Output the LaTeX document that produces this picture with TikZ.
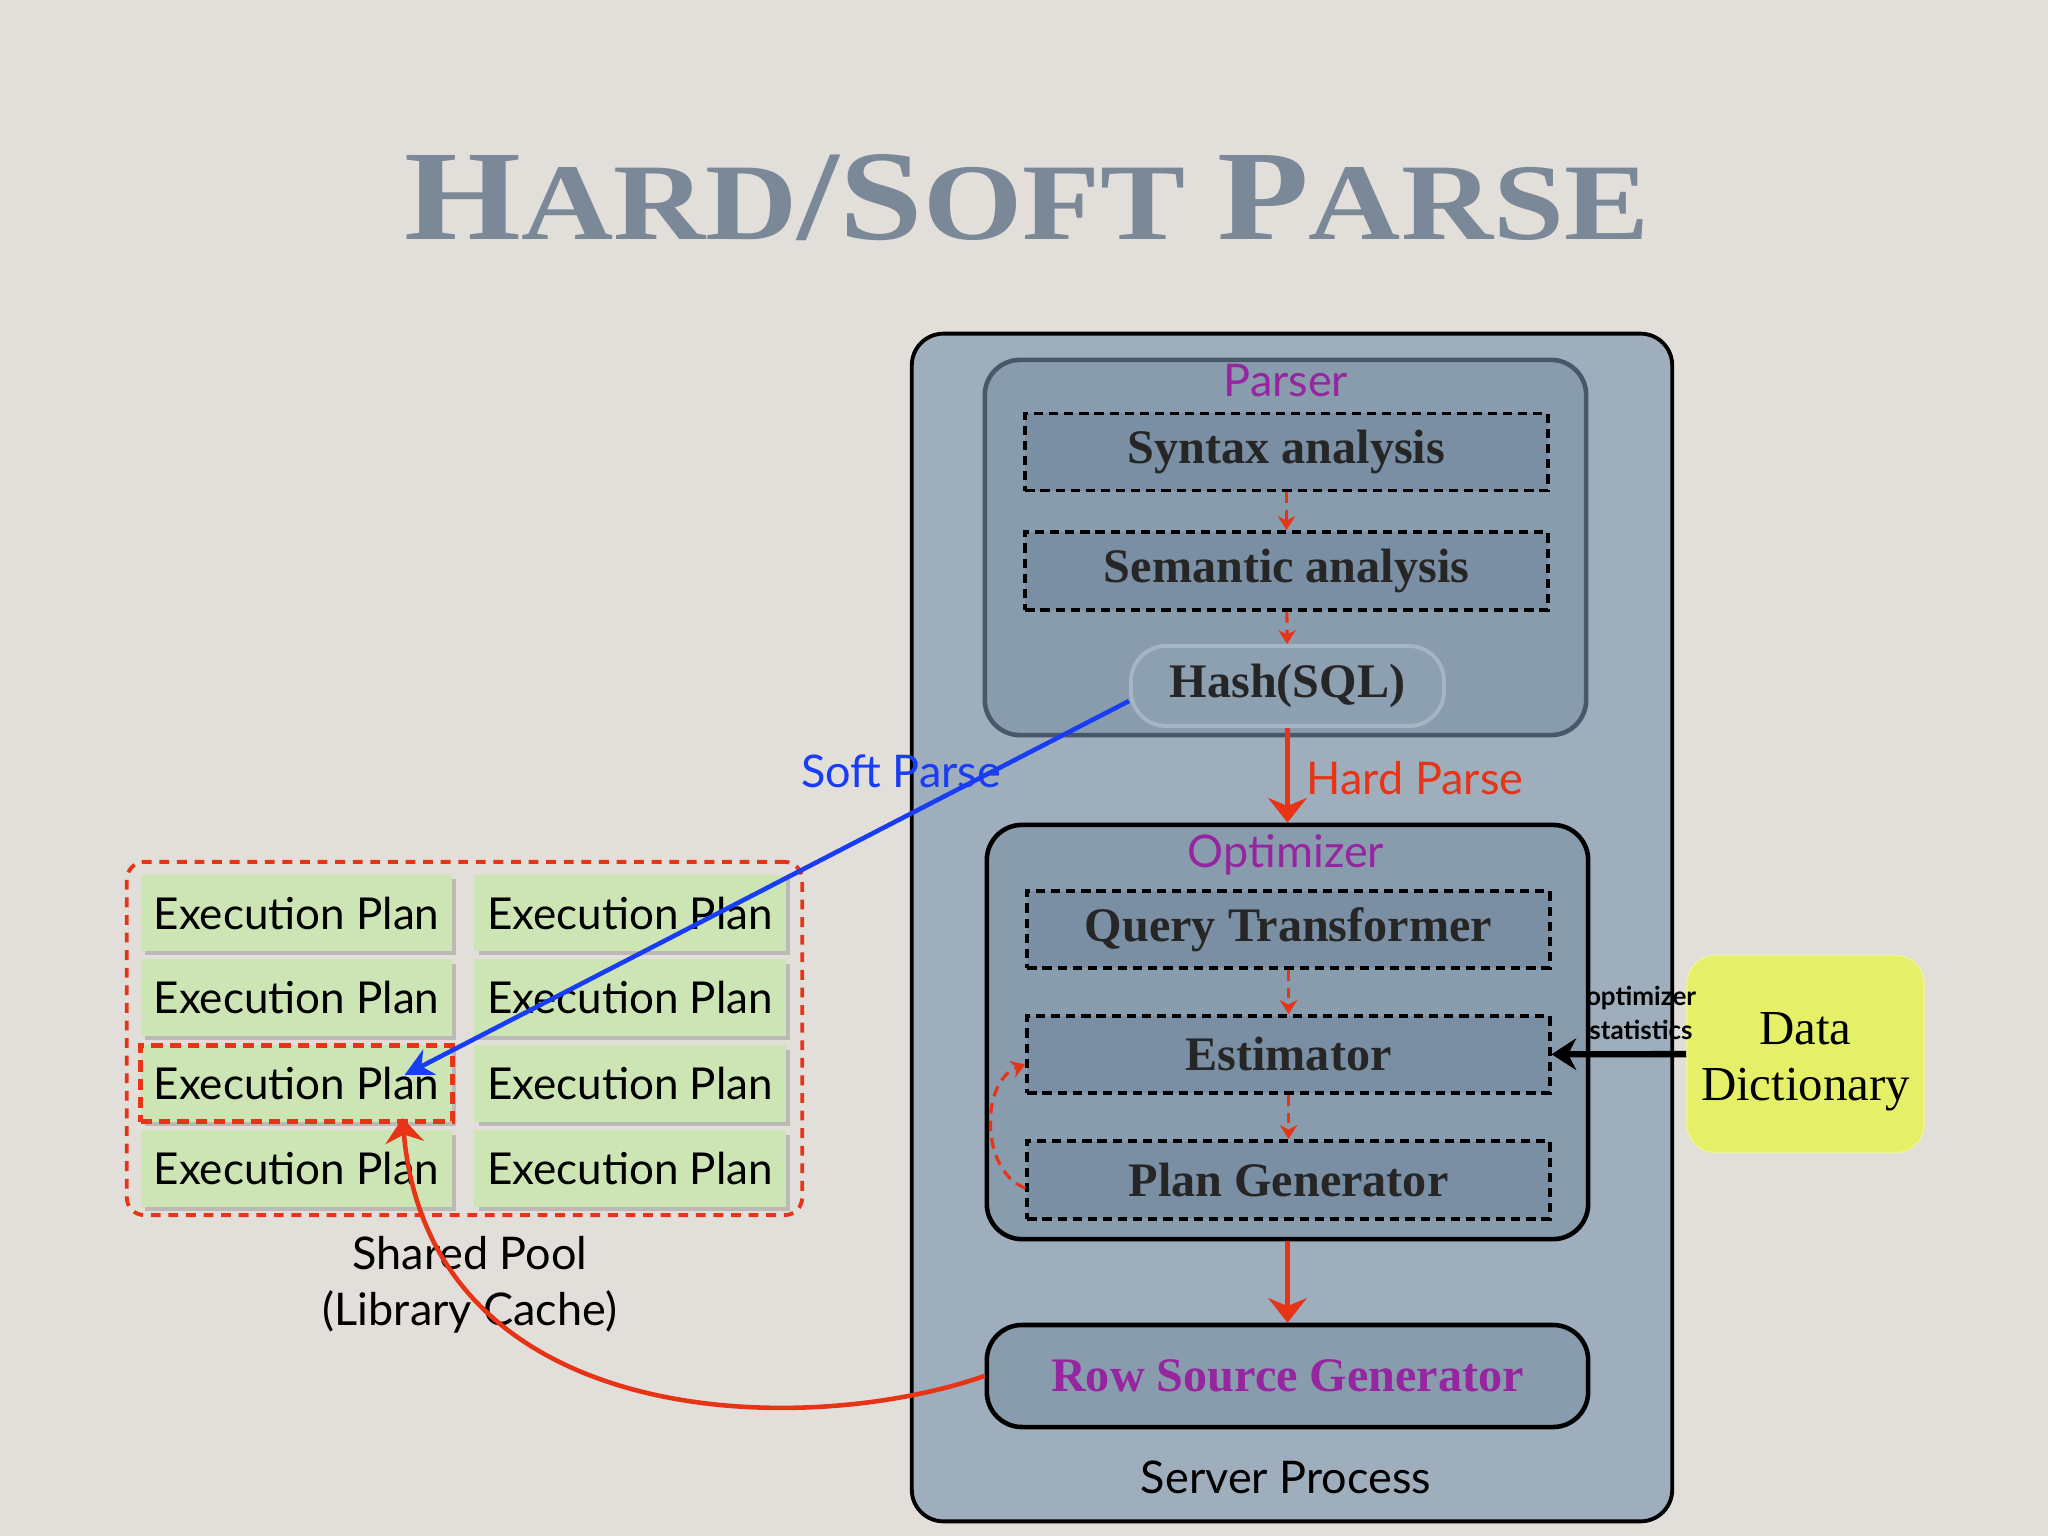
\documentclass[tikz,border=0pt]{standalone}
\usepackage{fontspec}
\setmainfont{Lato}
\newfontfamily\garafont{Liberation Serif}
\newfontfamily\titlefont[FakeStretch=1.17]{Liberation Serif}
\usetikzlibrary{arrows.meta,positioning,calc,shadows}

\definecolor{bgpaper}{RGB}{226,223,218}
\definecolor{srvblue}{RGB}{158,174,189}
\definecolor{innerblue}{RGB}{137,156,174}
\definecolor{stepblue}{RGB}{122,143,163}
\definecolor{hashfill}{RGB}{141,160,178}
\definecolor{hashrim}{RGB}{165,181,195}
\definecolor{slate}{RGB}{72,88,104}
\definecolor{planred}{RGB}{232,52,22}
\definecolor{labpurple}{RGB}{150,38,160}
\definecolor{softblue}{RGB}{25,60,245}
\definecolor{plangreen}{RGB}{205,229,180}
\definecolor{dictyellow}{RGB}{229,240,104}
\definecolor{titlegray}{RGB}{122,136,152}

\newcommand\tbig[1]{{\fontsize{36.5}{40}\selectfont #1}}

\begin{document}
\begin{tikzpicture}[
  x=0.01cm, y=-0.01cm,
  srvbox/.style={draw=black,line width=1.1pt,rounded corners=9pt,fill=srvblue},
  stage/.style={draw=black,line width=1.3pt,rounded corners=10pt,fill=innerblue,
                minimum width=6.01cm},
  stagelab/.style={text=labpurple,font=\fontsize{12.8}{15}\selectfont,inner sep=0pt},
  serifb/.style={font=\garafont\bfseries\fontsize{13.7}{16}\selectfont,text=black!85},
  stepbox/.style={serifb,draw=black,dash pattern=on 2.6pt off 1.7pt,line width=1.1pt,
                  fill=stepblue,minimum width=5.22cm,minimum height=0.77cm},
  hashbox/.style={serifb,draw=hashrim,line width=1.1pt,rounded corners=10pt,fill=hashfill,
                  minimum width=3.13cm,minimum height=0.8cm},
  sanslab/.style={font=\fontsize{12.8}{16}\selectfont,align=center,inner sep=0pt},
  plan/.style={fill=plangreen,minimum width=3.11cm,minimum height=0.76cm,
               font=\fontsize{12.5}{15}\selectfont,
               drop shadow={shadow xshift=1.2pt,shadow yshift=-1.2pt,fill=black!45,opacity=0.45}},
  hitbox/.style={draw=planred,line width=1.4pt,dash pattern=on 3.2pt off 2pt,
                 minimum width=3.11cm,minimum height=0.76cm},
  pool/.style={draw=planred,line width=1.1pt,dash pattern=on 2.8pt off 2.2pt,rounded corners=5pt,
               minimum width=6.75cm,minimum height=3.53cm},
  dictbox/.style={fill=dictyellow,draw=dictyellow!70!white,rounded corners=8pt,
                  minimum width=2.37cm,minimum height=1.97cm,align=center,
                  font=\garafont\fontsize{13.9}{16}\selectfont},
  flow/.style={draw=planred,line width=0.9pt,dash pattern=on 3pt off 2pt,
               -{Stealth[length=4pt,width=5pt]}},
  bigflow/.style={draw=planred,line width=1.6pt,-{Stealth[length=7pt,width=11pt]}},
  softflow/.style={draw=softblue,line width=1.3pt,-{Stealth[length=8pt,width=8pt]}},
  statflow/.style={draw=black,line width=1.8pt,-{Stealth[length=7pt,width=9pt]}}
]
\useasboundingbox[fill=bgpaper] (0,0) rectangle (2048,1536);

% title
\node[anchor=base,text=titlegray,inner sep=0pt,
      font=\titlefont\bfseries\fontsize{31}{34}\selectfont] (title) at (1027,239)
  {\tbig{H}ARD\tbig{/}\tbig{S}OFT \tbig{P}ARSE};

% server process
\node[srvbox,minimum width=7.6cm,minimum height=11.87cm] (server) at (1292,927.5) {};
\node[stage,draw=slate,minimum height=3.75cm] (parser) at (1285.5,547.5) {};
\node[stagelab] (parserlab) at (1286,381) {Parser};
\node[stepbox] (syntax) at (1286.5,452) {Syntax analysis};
\node[stepbox,minimum height=0.78cm] (semantic) at (1286.5,571) {Semantic analysis};
\node[hashbox] (hash) at (1287.5,686) {Hash(SQL)};

\node[stage,minimum height=4.14cm] (optimizer) at (1287.5,1032) {};
\node[stagelab] (optlab) at (1286,855) {Optimizer};
\node[stepbox] (query) at (1288.5,929.5) {Query Transformer};
\node[stepbox] (estimator) at (1288.5,1054.5) {Estimator};
\node[stepbox,minimum height=0.78cm] (plangen) at (1288.5,1180) {Plan Generator};

\node[stage,serifb,text=labpurple,minimum height=1.02cm] (rowsrc) at (1287.5,1376) {Row Source Generator};
\node[sanslab] (srvlab) at (1286,1477) {Server Process};

\node[dictbox] (dict) at (1805.5,1054) {};
\node[align=center,font=\garafont\fontsize{13.9}{16}\selectfont] (dictlab) at (1805.5,1062) {Data\\Dictionary};
\node[font=\bfseries\fontsize{7.4}{9.7}\selectfont,align=center,inner sep=0pt] (statlab) at (1641,1013)
  {optimizer\\statistics};

% shared pool
\node[pool] (pool) at (464.5,1038.5) {};
\node[plan] (planL1) at (296.5,913) {Execution Plan};
\node[plan] (planR1) at (630,913) {Execution Plan};
\node[plan] (planL2) at (296.5,997.5) {Execution Plan};
\node[plan] (planR2) at (630,997.5) {Execution Plan};
\node[plan] (planL3) at (296.5,1083.5) {Execution Plan};
\node[plan] (planR3) at (630,1083.5) {Execution Plan};
\node[plan] (planL4) at (296.5,1168.5) {Execution Plan};
\node[plan] (planR4) at (630,1168.5) {Execution Plan};
\node[hitbox] (hit) at (planL3) {};
\node[sanslab] (poollab) at (470,1285) {Shared Pool\\(Library Cache)};

% flows
\draw[flow] (syntax) -- (semantic);
\draw[flow] (semantic) -- (hash);
\draw[flow] (query) -- (estimator);
\draw[flow] (estimator) -- (plangen);
\draw[flow] ($(plangen.west)+(0,8)$) to[bend left=70] ($(estimator.west)+(0,10)$);
\draw[bigflow] (hash) -- (optimizer);
\node[text=planred,font=\fontsize{12.8}{15}\selectfont,anchor=west,inner sep=0pt] (hardlab) at (1306,778) {Hard Parse};
\draw[bigflow] (optimizer) -- (rowsrc);
\draw[statflow] (dict) -- (estimator);
\draw[softflow] ($(hash.west)+(0,15)$) -- ($(hit.north east)+(-50,32)$);
\node[text=softblue,font=\fontsize{12.8}{15}\selectfont,inner sep=0pt] (softlab) at (901,771) {Soft Parse};
\draw[bigflow,line width=1.3pt] (rowsrc.west) .. controls (800,1440) and (430,1430) .. ($(hit.south)+(106,-6)$);
\end{tikzpicture}
\end{document}
